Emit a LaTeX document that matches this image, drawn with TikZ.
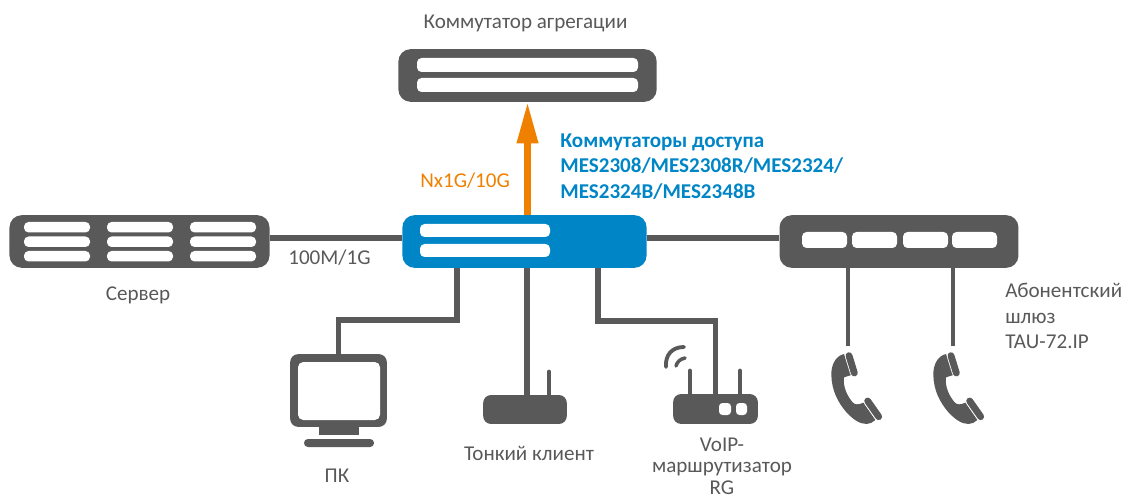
\documentclass[tikz,border=0pt]{standalone}
\usepackage{fontspec}
\setmainfont{Carlito}
\usetikzlibrary{arrows.meta}
\definecolor{devgray}{HTML}{595959}
\definecolor{accblue}{HTML}{0085C6}
\definecolor{uporange}{HTML}{F08000}
\tikzset{
  device/.style={fill=devgray,inner sep=0pt,rounded corners=7pt},
  slot/.style={fill=white,rounded corners=2.6pt},
  link/.style={draw=devgray,line width=3pt},
  thin link/.style={draw=devgray,line width=2.8pt},
  uplink/.style={draw=uporange,line width=3.7pt,-{Triangle[length=23.5pt,width=11.5pt]}},
  caption/.style={text=devgray,font=\fontsize{12}{14.4}\selectfont,inner sep=0pt,align=center},
}
\begin{document}
\begin{tikzpicture}[x=0.02cm,y=-0.02cm]
  \useasboundingbox (0,0) rectangle (1124,499);

  % switches
  \node[device,minimum width=147pt,minimum height=30pt] (agg) at (527.5,75.5) {};
  \node[device,fill=accblue,minimum width=139pt,minimum height=30pt] (acc) at (524.5,241.5) {};
  \node[device,minimum width=148pt,minimum height=30pt] (srv) at (139.5,241.5) {};
  \node[device,minimum width=136pt,minimum height=30pt] (tau) at (899,241.5) {};
  \fill[slot] (417,58) rectangle (638,72);
  \fill[slot] (417,78) rectangle (638,92);
  \fill[slot] (420,224) rectangle (550,237);
  \fill[slot] (420,244) rectangle (550,257);
  \foreach \xa in {24,107,190}
    \foreach \ya in {222,236.5,251}
      \fill[slot] (\xa,\ya) rectangle (\xa+66,\ya+10.5);
  \foreach \xa in {802,852,903,952}
    \fill[slot] (\xa,232) rectangle (\xa+45,248);

  % end devices
  \node[device,rounded corners=4.5pt,minimum width=55pt,minimum height=41.4pt] (pc) at (338.5,390.5) {};
  \fill[white,rounded corners=3pt] (298,362) rectangle (380,420);
  \fill[devgray] (319,427) rectangle (359,435);
  \fill[devgray,rounded corners=2.2pt] (304,439) rectangle (374,447);
  \node[device,rounded corners=4.5pt,minimum width=47.6pt,minimum height=16.5pt] (thin) at (525,409.5) {};
  \draw[thin link,line cap=round] (549,395) -- (549,372);
  \node[device,rounded corners=4.5pt,minimum width=48.2pt,minimum height=17pt] (rg) at (715.5,409) {};
  \draw[thin link,line cap=round] (690,395) -- (690,371);
  \draw[thin link,line cap=round] (740,395) -- (740,371);
  \fill[white,rounded corners=2pt] (719,403) rectangle (731,415);
  \fill[white,rounded corners=2pt] (736,403) rectangle (747,415);
  \draw[devgray,line width=2.2pt,line cap=round] (666,367) .. controls (665,355) and (672,347) .. (684,347);
  \draw[devgray,line width=2pt,line cap=round] (676,366) .. controls (677,362) and (680,359) .. (685,358);
  \foreach \xa in {820,922} {
    \begin{scope}[shift={(\xa,340)},scale=1/3]
      \fill[devgray] (72,42) .. controls (45,48) and (33,78) .. (34,105) .. controls (35,150) and (52,185) .. (80,218)
        .. controls (100,238) and (118,252) .. (140,252) .. controls (150,252) and (158,247) .. (166,240)
        -- (130,188) .. controls (115,195) and (105,195) .. (97,186) .. controls (82,168) and (68,140) .. (72,112) -- (94,105) -- cycle;
      \draw[white,line width=4.6pt,line cap=round] (86,46) -- (102,98);
      \draw[devgray,line width=3.9pt,line cap=round] (87,47) -- (103,99);
      \draw[white,line width=4.6pt,line cap=round] (142,182) -- (175,229);
      \draw[devgray,line width=3.9pt,line cap=round] (143,183) -- (176,230);
    \end{scope}
  }

  % connectors
  \coordinate (pcbend) at (457,320);
  \coordinate (rgbend) at (598,321);
  \coordinate (thinx) at (527,395);
  \coordinate (ph1) at (848,346);
  \coordinate (ph2) at (953,346);
  \draw[link] ([yshift=2pt]srv.east) -- ([yshift=2pt]acc.west);
  \draw[link] ([yshift=2pt]acc.east) -- ([yshift=2pt]tau.west);
  \draw[link] (acc.south -| pcbend) -- (pcbend) -| (pc.north);
  \draw[link] (acc.south -| thinx) -- (thin.north -| thinx);
  \draw[link] (acc.south -| rgbend) -- (rgbend) -| (rg.north);
  \draw[thin link] (tau.south -| ph1) -- (ph1);
  \draw[thin link] (tau.south -| ph2) -- (ph2);
  \draw[uplink] (agg.south |- acc.north) -- (agg.south);

  % labels
  \node[caption] (agglbl) at (525.5,23) {Коммутатор агрегации};
  \node[caption,text=accblue,font=\fontsize{12}{14.4}\selectfont\bfseries,align=left,anchor=west] (acclbl) at (560,166.5) {Коммутаторы доступа\\MES2308/MES2308R/MES2324/\\MES2324B/MES2348B};
  \node[caption,text=uporange,anchor=west] (uplbl) at (420,181) {Nx1G/10G};
  \node[caption,anchor=west] (speedlbl) at (288,258) {100M/1G};
  \node[caption] (srvlbl) at (138,295) {Сервер};
  \node[caption] (pclbl) at (337,476) {ПК};
  \node[caption] (thinlbl) at (529,453) {Тонкий клиент};
  \node[caption,font=\fontsize{12}{12.2}\selectfont] (rglbl) at (722,466) {VoIP-\\маршрутизатор\\RG};
  \node[caption,align=left,anchor=west] (taulbl) at (1005,316) {Абонентский\\шлюз\\TAU-72.IP};
\end{tikzpicture}
\end{document}
